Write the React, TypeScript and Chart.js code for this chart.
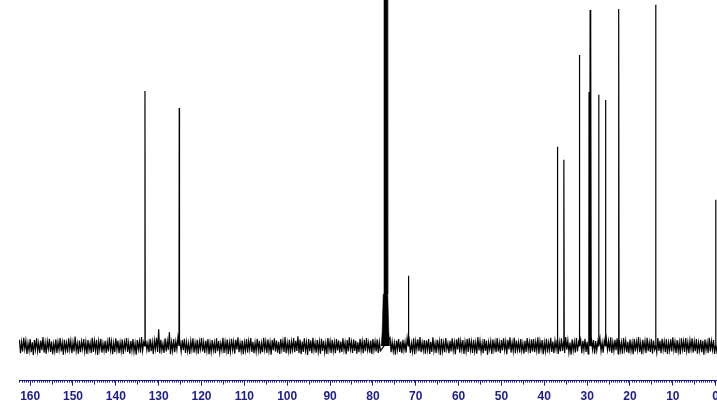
import React, { useEffect, useRef } from "react";
import { Chart, registerables } from "chart.js";

Chart.register(...registerables);

// x axis (ppm)
const X_MIN = -0.4;
const X_MAX = 162.6;
const tickValues = [160, 150, 140, 130, 120, 110, 100, 90, 80, 70, 60, 50, 40, 30, 20, 10, 0];
const tickLabels = ["160", "150", "140", "130", "120", "110", "100", "90", "80", "70", "60", "50", "40", "30", "20", "10", "0"];

// sharp resonances
const peakPpm = [133.2, 125.2, 71.7, 36.9, 35.4, 31.8, 29.55, 29.3, 29.1, 27.3, 25.7, 22.6, 14.0, 0.0];
const peakHeight = [73.7, 68.8, 20.3, 57.6, 53.8, 84.1, 73.4, 97.1, 89.9, 72.6, 71.1, 97.4, 98.6, 42.3];

// CDCl3 solvent triplet (unresolved, clipped) profile
const solventPpm = [78.1, 77.85, 77.6, 77.42, 77.36, 77.04, 76.74, 76.68, 76.52, 76.28, 76.05];
const solventValue = [0, 4, 15, 200, 200, 200, 200, 200, 15, 4, 0];

// baseline noise, sampled every 0.25 ppm from 162.5 ppm downward
const NOISE_START = 162.5;
const NOISE_STEP = 0.25;
const noiseValues = [
  1.8, -2.1, 1.2, -1.6, 2.4, -0.9, 1.5, -2.3, 0.8, -1.4, 2.0, -1.8, 1.1, -2.6, 1.7, -1.0, 2.2, -1.5, 0.9, -2.0,
  1.6, -1.2, 2.6, -1.9, 1.0, -2.2, 1.4, -0.8, 2.1, -1.7, 1.3, -2.4, 0.7, -1.5, 1.9, -2.0, 1.2, -1.1, 2.3, -1.6,
  1.0, -2.5, 1.8, -1.3, 0.9, -1.9, 2.2, -1.0, 1.5, -2.1, 1.1, -1.6, 2.7, -1.4, 0.8, -2.2, 1.6, -1.8, 1.3, -0.9,
  2.0, -1.5, 1.2, -2.3, 1.7, -1.2, 0.9, -2.0, 2.4, -1.7, 1.5, -1.3, 1.8, -2.6, 1.4, -1.0, 2.1, -1.9, 0.8, -1.4,
  1.5, -2.0, 1.1, -1.6, 2.5, -1.2, 1.3, -2.4, 0.9, -1.8, 2.2, -1.1, 1.6, -2.1, 1.0, -1.5, 1.9, -2.3, 1.2, -0.8,
  2.3, -1.7, 1.0, -2.2, 1.4, -1.3, 2.0, -1.6, 0.8, -2.5, 1.7, -1.0, 1.3, -1.9, 2.6, -1.4, 1.1, -2.0, 1.5, -1.2,
  0.9, -1.8, 2.1, -1.5, 1.2, -2.3, 1.6, -0.9, 2.4, -1.7, 4.8, -2.1, 1.8, -1.3, 0.7, -2.0, 2.2, -1.6, 1.4, -1.1,
  4.0, -2.4, 1.1, -1.4, 2.0, -1.8, 1.3, -1.0, 2.5, -2.2, 0.9, -1.6, 1.7, -1.2, 2.1, -2.0, 1.2, -1.5, 0.8, -2.3,
  1.4, -1.1, 2.2, -1.9, 1.0, -1.4, 1.8, -2.2, 1.3, -0.9, 2.3, -1.6, 1.1, -2.0, 1.5, -1.3, 2.0, -2.4, 0.9, -1.7,
  1.7, -1.3, 1.0, -2.1, 2.2, -1.5, 1.4, -1.9, 0.8, -1.2, 2.4, -2.0, 1.2, -1.4, 1.9, -2.3, 1.0, -1.6, 2.1, -1.1,
  1.3, -2.2, 1.8, -1.0, 2.5, -1.8, 0.9, -1.5, 1.6, -2.4, 1.1, -1.3, 2.0, -1.9, 1.4, -1.0, 2.3, -1.7, 1.2, -2.1,
  1.0, -1.6, 2.1, -1.3, 1.5, -2.2, 0.8, -1.8, 2.4, -1.1, 1.3, -2.0, 1.9, -1.4, 1.1, -2.5, 1.7, -1.2, 2.2, -1.6,
  1.6, -1.9, 1.2, -2.3, 2.0, -1.0, 1.4, -1.7, 2.6, -2.1, 1.0, -1.5, 1.8, -2.2, 1.3, -1.1, 2.3, -1.8, 1.5, -1.4,
  2.8, -2.0, 1.9, -2.4, 1.3, -1.7, 2.2, -1.3, 1.1, -2.6, 2.0, -1.5, 1.6, -2.1, 2.4, -1.2, 1.0, -1.9, 1.7, -1.6,
  1.2, -2.2, 2.1, -1.4, 1.5, -1.8, 0.9, -2.3, 2.3, -1.1, 1.4, -2.0, 1.8, -1.5, 1.1, -2.1, 2.0, -1.3, 1.6, -1.9,
  1.3, -1.7, 2.2, -1.2, 1.0, -2.4, 1.7, -1.6, 2.5, -1.0, 1.2, -2.0, 1.9, -1.4, 1.5, -2.2, 1.1, -1.8, 2.1, -1.3,
  1.4, -2.1, 1.8, -1.5, 2.3, -1.1, 1.0, -1.9, 1.6, -2.3, 2.0, -1.2, 1.3, -1.6, 1.9, -2.0, 1.2, -1.4, 2.2, -1.7,
  2.1, -1.4, 1.0, -2.2, 1.7, -1.1, 2.4, -1.8, 1.2, -1.5, 0.9, -2.5, 1.6, -1.0, 2.0, -1.7, 1.3, -2.1, 1.8, -1.2,
  1.1, -1.9, 2.3, -1.3, 1.5, -2.0, 0.8, -1.6, 2.2, -2.4, 1.4, -1.0, 1.9, -1.5, 2.6, -1.8, 1.0, -1.3, 1.7, -2.2,
  1.6, -1.1, 2.0, -2.3, 1.2, -1.7, 2.5, -1.4, 0.9, -2.0, 1.8, -1.2, 1.3, -2.6, 2.1, -1.5, 1.0, -1.8, 2.3, -1.0,
  0.8, -2.1, 1.5, -1.6, 2.2, -1.3, 1.1, -2.4, 1.9, -1.0, 2.4, -1.9, 1.4, -1.1, 1.7, -2.3, 1.2, -1.5, 2.0, -1.7,
  2.2, -1.2, 1.3, -2.0, 1.8, -1.5, 1.0, -2.2, 2.6, -1.3, 1.5, -1.7, 0.9, -2.1, 2.0, -1.4, 1.6, -2.5, 1.1, -1.0,
  1.4, -2.3, 1.9, -1.1, 1.2, -1.8, 2.3, -1.6, 1.0, -2.0, 1.7, -1.3, 2.2, -1.2, 1.3, -2.4, 1.8, -1.0, 2.5, -1.9,
  1.0, -1.5, 2.4, -2.1, 1.6, -1.2, 1.1, -1.9, 2.0, -1.4, 0.8, -2.2, 1.5, -1.7, 2.3, -1.1, 1.2, -2.0, 1.9, -1.6,
  2.0, -1.8, 1.2, -1.3, 2.5, -2.2, 1.4, -1.0, 1.7, -2.4, 1.1, -1.5, 2.1, -1.9, 1.0, -1.2, 2.4, -1.7, 1.3, -2.1,
  1.5, -1.0, 1.8, -2.3, 1.1, -1.6, 2.2, -1.4, 1.3, -2.0, 2.6, -1.1, 1.6, -1.8, 1.0, -2.5, 1.9, -1.3, 1.2, -1.9,
  2.3, -1.6, 1.0, -1.4, 1.8, -2.1, 1.5, -1.2, 2.1, -1.7, 1.2, -2.3, 0.9, -1.5, 2.4, -1.0, 1.7, -2.2, 1.4, -1.3,
  1.2, -2.0, 2.2, -1.5, 1.0, -1.9, 1.6, -2.4, 2.0, -1.1, 1.4, -1.6, 2.5, -2.0, 1.1, -1.4, 1.8, -1.2, 2.2, -2.3,
  1.7, -1.3, 1.1, -2.2, 2.3, -1.0, 1.5, -1.8, 1.2, -2.1, 1.9, -1.4, 1.0, -2.4, 2.1, -1.6, 1.3, -1.1, 2.6, -1.8,
  1.0, -2.4, 1.8, -1.2, 1.4, -2.0, 2.4, -1.5, 1.1, -1.7, 2.0, -2.2, 1.6, -1.0, 1.2, -1.9, 2.3, -1.4, 1.5, -2.1,
  2.1, -1.1, 1.3, -1.8, 2.0, -2.3, 1.0, -1.3, 1.9, -1.6, 2.5, -1.2, 1.2, -2.0, 1.7, -1.5, 1.1, -2.4, 2.2, -1.0,
  1.4, -1.7, 2.3, -1.4, 1.1, -2.1, 1.6, -1.0, 2.2, -1.9, 1.3, -1.5, 2.0, -2.2, 1.0, -1.3, 1.8, -1.8, 1.5, -2.5,
  1.9, -1.2, 1.0, -2.0, 2.4, -1.6, 1.4, -1.1, 1.7, -2.3, 2.1, -1.4, 1.2, -1.7, 2.5, -2.0, 1.3, -1.0, 1.6, -1.9,
];

const NAVY = "#1c1c8e";

function buildSpectrum() {
  const pts: { x: number; y: number }[] = [];
  const solLo = Math.min(...solventPpm);
  const solHi = Math.max(...solventPpm);
  noiseValues.forEach((v, i) => {
    const x = NOISE_START - i * NOISE_STEP;
    if (x > solLo && x < solHi) return;
    if (peakPpm.some((p) => Math.abs(p - x) < 0.09)) return;
    pts.push({ x, y: v });
  });
  peakPpm.forEach((p, i) => {
    pts.push({ x: p + 0.06, y: 0 });
    pts.push({ x: p, y: peakHeight[i] });
    pts.push({ x: p - 0.06, y: 0 });
  });
  pts.sort((a, b) => b.x - a.x);
  return pts;
}

function buildSolvent() {
  return solventPpm.map((p, i) => ({ x: p, y: solventValue[i] }));
}

const minorTicks = {
  id: "minorTicks",
  afterDraw(chart: any) {
    const s = chart.scales.x;
    const ctx = chart.ctx;
    const y0 = chart.chartArea.bottom;
    ctx.save();
    ctx.strokeStyle = NAVY;
    ctx.lineWidth = 1;
    ctx.beginPath();
    for (let v = 0; v <= 162.5; v += 0.5) {
      if (v % 10 === 0) continue;
      const x = Math.round(s.getPixelForValue(v)) + 0.5;
      const len = v % 5 === 0 ? 4 : 2;
      ctx.moveTo(x, y0);
      ctx.lineTo(x, y0 + len);
    }
    ctx.stroke();
    ctx.restore();
  },
};

export default function App() {
  const ref = useRef<HTMLCanvasElement | null>(null);
  useEffect(() => {
    if (!ref.current) return;
    const chart = new Chart(ref.current, {
      type: "line",
      data: {
        datasets: [
          {
            data: buildSpectrum(),
            borderColor: "#000000",
            borderWidth: 1.2,
            pointRadius: 0,
            tension: 0,
            fill: false,
          },
          {
            data: buildSolvent(),
            borderColor: "#000000",
            backgroundColor: "#000000",
            borderWidth: 0.5,
            pointRadius: 0,
            tension: 0,
            fill: "origin",
          },
        ],
      },
      options: {
        animation: false,
        responsive: false,
        devicePixelRatio: 1,
        parsing: false,
        layout: { autoPadding: false, padding: { left: 19, right: 0, top: 0, bottom: 0 } },
        plugins: { legend: { display: false }, tooltip: { enabled: false } },
        scales: {
          x: {
            type: "linear",
            reverse: true,
            min: X_MIN,
            max: X_MAX,
            position: "bottom",
            afterBuildTicks: (axis: any) => {
              axis.ticks = tickValues.map((v) => ({ value: v }));
            },
            ticks: {
              autoSkip: false,
              maxRotation: 0,
              padding: 4,
              color: NAVY,
              font: { family: "'Liberation Sans', Arial, sans-serif", size: 12, weight: "bold" },
              callback: (_v: any, i: number) => tickLabels[i],
            },
            grid: { drawOnChartArea: false, tickLength: 5, color: NAVY, tickWidth: 1 },
            border: { display: true, color: NAVY, width: 1 },
          },
          y: { display: false, min: -10, max: 100 },
        },
      },
      plugins: [minorTicks],
    } as any);
    return () => chart.destroy();
  }, []);
  return (
    <div style={{ position: "absolute", left: 0, top: 0, width: 717, height: 408, overflow: "hidden", background: "#fff" }}>
      <canvas ref={ref} width={723} height={408} style={{ width: 723, height: 408, display: "block" }} />
    </div>
  );
}
